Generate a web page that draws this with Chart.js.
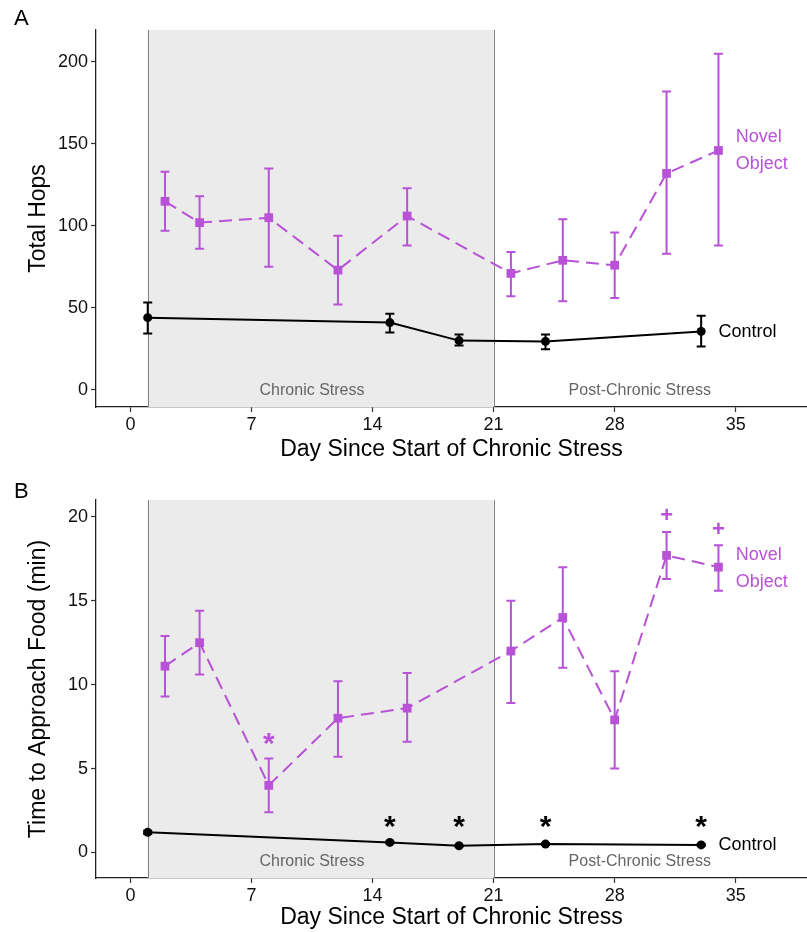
<!DOCTYPE html>
<html><head><meta charset="utf-8">
<script src="https://cdn.jsdelivr.net/npm/chart.js@4.4.0/dist/chart.umd.min.js"></script>
<style>
html,body{margin:0;padding:0;background:#fff;width:807px;height:932px;overflow:hidden;}
.wrap{position:absolute;left:0;width:807px;}
.panel{position:absolute;font-family:"Liberation Sans",Arial,sans-serif;font-size:22px;color:#000;line-height:1;}
</style></head><body>
<div class="wrap" style="top:0;height:466px"><canvas id="cA" width="807" height="466"></canvas></div>
<div class="wrap" style="top:470px;height:462px"><canvas id="cB" width="807" height="462"></canvas></div>
<div class="panel" style="left:14px;top:7px">A</div>
<div class="panel" style="left:14px;top:480px">B</div>
<script>
// ---------- data ----------
const dayTicks = [0, 7, 14, 21, 28, 35];
const novelDays = [2, 4, 8, 12, 16, 22, 25, 28, 31, 34];
const controlDays = [1, 15, 19, 24, 33];

// Panel A: Total Hops
const hopsTicks = [0, 50, 100, 150, 200];
const hopsNovel     = [115, 102, 105, 73, 106, 71, 79, 76, 132, 146];
const hopsNovelLow  = [97, 86, 75, 52, 88, 57, 54, 56, 83, 88];
const hopsNovelHigh = [133, 118, 135, 94, 123, 84, 104, 96, 182, 205];
const hopsControl     = [44, 41, 30, 29.5, 35.6];
const hopsControlLow  = [34.4, 35, 27, 24.8, 26.4];
const hopsControlHigh = [53.3, 46.4, 33.7, 33.7, 45.1];

// Panel B: Time to Approach Food (min)
const foodTicks = [0, 5, 10, 15, 20];
const foodNovel     = [11.1, 12.5, 4.0, 8.0, 8.6, 12.0, 14.0, 7.9, 17.7, 17.0];
const foodNovelLow  = [9.3, 10.6, 2.4, 5.7, 6.6, 8.9, 11.0, 5.0, 16.3, 15.6];
const foodNovelHigh = [12.9, 14.4, 5.6, 10.2, 10.7, 15.0, 17.0, 10.8, 19.1, 18.3];
const foodControl     = [1.2, 0.6, 0.4, 0.5, 0.45];
const foodControlLow  = [1.1, 0.55, 0.35, 0.45, 0.4];
const foodControlHigh = [1.3, 0.65, 0.45, 0.55, 0.5];

// significance markers (days)
const controlStarDays = [15, 19, 24, 33];
const novelStarDays = [8];
const novelPlusDays = [31, 34];

// ---------- styling ----------
const FONT = '"Liberation Sans", Arial, Helvetica, sans-serif';
const PURPLE = '#B852D6';
const BLACK = '#000000';
Chart.defaults.font.family = FONT;
Chart.defaults.color = '#000';

const annotPlugin = {
  id: 'annot',
  beforeDatasetsDraw(chart, args, opts) {
    const {ctx, chartArea: a, scales: {x, y}} = chart;
    ctx.save();
    const x1 = x.getPixelForValue(opts.shadeFrom), x2 = x.getPixelForValue(opts.shadeTo);
    ctx.fillStyle = '#EBEBEB';
    ctx.fillRect(x1, a.top, x2 - x1, a.bottom - a.top);
    ctx.strokeStyle = '#808080'; ctx.lineWidth = 1;
    [x1, x2].forEach(px => {
      const p = Math.round(px) + 0.5;
      ctx.beginPath(); ctx.moveTo(p, a.top); ctx.lineTo(p, a.bottom); ctx.stroke();
    });
    ctx.fillStyle = '#666666'; ctx.font = '16px ' + FONT;
    ctx.textAlign = 'center'; ctx.textBaseline = 'middle';
    opts.regions.forEach(r => ctx.fillText(r.text, x.getPixelForValue(r.x), y.getPixelForValue(r.y)));
    chart.data.datasets.forEach(ds => {
      if (!ds.errLow) return;
      ctx.strokeStyle = ds.borderColor; ctx.lineWidth = 2; ctx.setLineDash([]);
      ds.data.forEach((p, i) => {
        const px = x.getPixelForValue(p.x);
        const lo = y.getPixelForValue(ds.errLow[i]), hi = y.getPixelForValue(ds.errHigh[i]);
        ctx.beginPath();
        ctx.moveTo(px, lo); ctx.lineTo(px, hi);
        ctx.moveTo(px - 4.5, lo); ctx.lineTo(px + 4.5, lo);
        ctx.moveTo(px - 4.5, hi); ctx.lineTo(px + 4.5, hi);
        ctx.stroke();
      });
    });
    ctx.restore();
  },
  afterDatasetsDraw(chart, args, opts) {
    const {ctx, scales: {x, y}} = chart;
    ctx.save();
    opts.texts.forEach(t => {
      ctx.fillStyle = t.color; ctx.font = t.font;
      ctx.textAlign = t.align || 'left'; ctx.textBaseline = 'middle';
      ctx.fillText(t.text, x.getPixelForValue(t.x), y.getPixelForValue(t.y) + (t.dy || 0));
    });
    ctx.restore();
  }
};

function makeChart(id, cfg) {
  const pts = (days, vals) => days.map((d, i) => ({x: d, y: vals[i]}));
  return new Chart(document.getElementById(id), {
    type: 'line',
    data: {
      datasets: [
        {
          label: 'Control', data: pts(controlDays, cfg.control),
          errLow: cfg.controlLow, errHigh: cfg.controlHigh,
          borderColor: BLACK, backgroundColor: BLACK, borderWidth: 2,
          pointStyle: 'circle', pointRadius: 4.5, pointHoverRadius: 4.5, pointBorderWidth: 0,
          tension: 0
        },
        {
          label: 'Novel Object', data: pts(novelDays, cfg.novel),
          errLow: cfg.novelLow, errHigh: cfg.novelHigh,
          borderColor: PURPLE, backgroundColor: PURPLE, borderWidth: 2, borderDash: [13, 7],
          pointStyle: 'rect', pointRadius: 6.2, pointHoverRadius: 6.2, pointBorderWidth: 0,
          tension: 0
        }
      ]
    },
    options: {
      responsive: false, animation: false, devicePixelRatio: 1,
      events: [],
      layout: {autoPadding: false, padding: {top: 30, right: 0, left: 0, bottom: 0}},
      plugins: {
        legend: {display: false}, tooltip: {enabled: false},
        annot: {shadeFrom: 1, shadeTo: 21, regions: cfg.regions, texts: cfg.texts}
      },
      scales: {
        x: {
          type: 'linear', min: -1.99, max: 39.12,
          afterBuildTicks: s => { s.ticks = dayTicks.map(v => ({value: v})); },
          afterFit: s => { s.height = cfg.xHeight; s.paddingLeft = 0; s.paddingRight = 0; },
          grid: {drawOnChartArea: false, drawTicks: true, tickLength: 5, color: '#333', tickWidth: 1.2},
          border: {display: true, color: '#222', width: 1.3},
          ticks: {font: {size: 18}, color: '#111', padding: 2, maxRotation: 0, autoSkip: false},
          title: {display: true, text: 'Day Since Start of Chronic Stress', font: {size: 23}, color: '#000',
                  padding: {top: 0, bottom: cfg.xTitlePad}}
        },
        y: {
          type: 'linear', min: cfg.yMin, max: cfg.yMax,
          afterBuildTicks: s => { s.ticks = cfg.yTicks.map(v => ({value: v})); },
          afterFit: s => { s.width = 96; s.paddingTop = 0; s.paddingBottom = 0; },
          grid: {drawOnChartArea: false, drawTicks: true, tickLength: 5, color: '#333', tickWidth: 1.2},
          border: {display: true, color: '#222', width: 1.3},
          ticks: {font: {size: 18}, color: '#111', padding: 3},
          title: {display: true, text: cfg.yTitle, font: {size: 23}, color: '#000',
                  padding: {top: 25, bottom: 0}}
        }
      }
    },
    plugins: [annotPlugin]
  });
}

const annFont = '18px ' + FONT;
makeChart('cA', {
  control: hopsControl, controlLow: hopsControlLow, controlHigh: hopsControlHigh,
  novel: hopsNovel, novelLow: hopsNovelLow, novelHigh: hopsNovelHigh,
  yMin: -10.5, yMax: 219.5, yTicks: hopsTicks, yTitle: 'Total Hops',
  xHeight: 59, xTitlePad: 3,
  regions: [{text: 'Chronic Stress', x: 10.5, y: -0.6}, {text: 'Post-Chronic Stress', x: 29.45, y: -0.6}],
  texts: [
    {text: 'Novel', x: 35.0, y: 154.5, color: PURPLE, font: annFont},
    {text: 'Object', x: 35.0, y: 137.9, color: PURPLE, font: annFont},
    {text: 'Control', x: 34.0, y: 35.2, color: BLACK, font: annFont}
  ]
});

const starTexts = controlStarDays.map(d => ({text: '*', x: d, y: 1.8, color: BLACK, font: 'bold 30px ' + FONT, align: 'center', dy: 5}))
  .concat(novelStarDays.map(d => ({text: '*', x: d, y: 6.75, color: PURPLE, font: 'bold 30px ' + FONT, align: 'center', dy: 6})))
  .concat(novelPlusDays.map((d, i) => ({text: '+', x: d, y: [20.1, 19.3][i], color: PURPLE, font: 'bold 22px ' + FONT, align: 'center', dy: 1})));

makeChart('cB', {
  control: foodControl, controlLow: foodControlLow, controlHigh: foodControlHigh,
  novel: foodNovel, novelLow: foodNovelLow, novelHigh: foodNovelHigh,
  yMin: -1.52, yMax: 21.0, yTicks: foodTicks, yTitle: 'Time to Approach Food (min)',
  xHeight: 54, xTitlePad: 1,
  regions: [{text: 'Chronic Stress', x: 10.5, y: -0.57}, {text: 'Post-Chronic Stress', x: 29.45, y: -0.57}],
  texts: [
    {text: 'Novel', x: 35.0, y: 17.72, color: PURPLE, font: annFont},
    {text: 'Object', x: 35.0, y: 16.11, color: PURPLE, font: annFont},
    {text: 'Control', x: 34.0, y: 0.42, color: BLACK, font: annFont}
  ].concat(starTexts)
});
</script>
</body></html>
